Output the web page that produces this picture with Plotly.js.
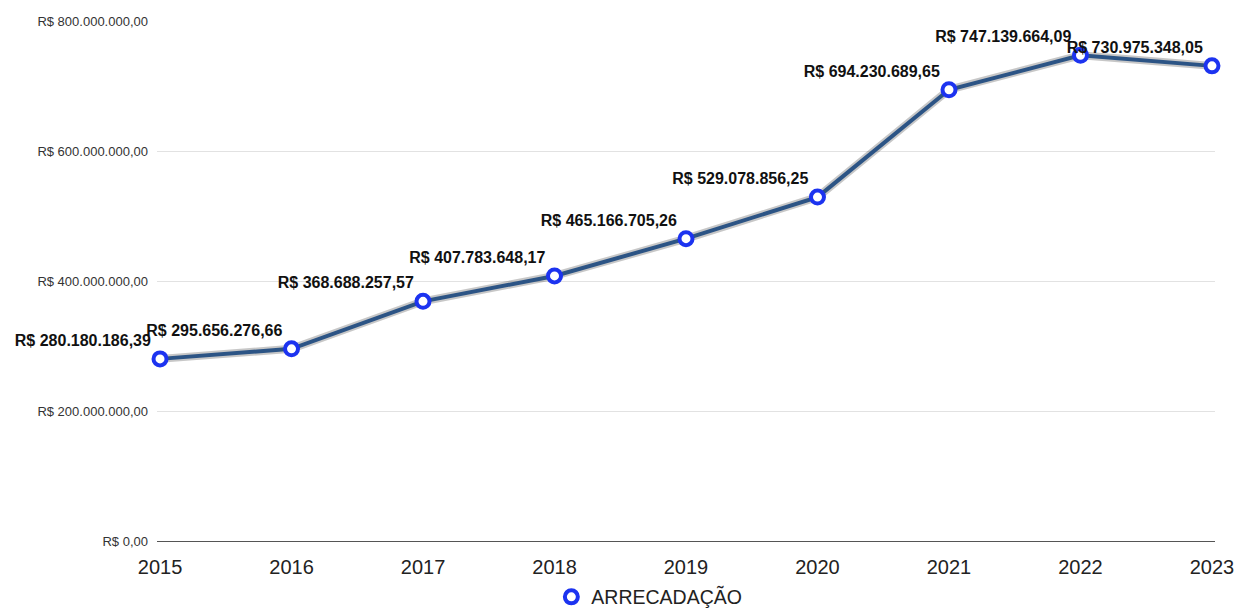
<!DOCTYPE html>
<html><head><meta charset="utf-8">
<script src="https://cdn.plot.ly/plotly-3.0.1.min.js"></script>
<style>html,body{margin:0;padding:0;background:#fff}#c{width:1239px;height:610px}</style>
</head><body><div id="c"></div>
<script>
const years = [2015, 2016, 2017, 2018, 2019, 2020, 2021, 2022, 2023];
const arrecadacao = [280180186.39, 295656276.66, 368688257.57, 407783648.17, 465166705.26, 529078856.25, 694230689.65, 747139664.09, 730975348.05];
const yTickVals = [0, 200000000, 400000000, 600000000, 800000000];
const yTickLabels = ["R$ 0,00", "R$ 200.000.000,00", "R$ 400.000.000,00", "R$ 600.000.000,00", "R$ 800.000.000,00"];
const seriesName = "ARRECADAÇÃO";

function brl(v){
  const parts = v.toFixed(2).split('.');
  const intPart = parts[0].replace(/\B(?=(\d{3})+(?!\d))/g, '.');
  return 'R$ ' + intPart + ',' + parts[1];
}
const labels = arrecadacao.map(brl);

const shadow = {
  x: years, y: arrecadacao, mode: 'lines', showlegend: false, hoverinfo: 'skip',
  line: {color: 'rgba(0,0,0,0.22)', width: 8}
};
const line = {
  x: years, y: arrecadacao, mode: 'lines', showlegend: false,
  line: {color: '#2c5485', width: 4}
};
const pts = {
  x: years, y: arrecadacao, mode: 'markers+text', name: seriesName,
  text: labels, textposition: 'top left',
  textfont: {family: 'Liberation Sans, Arial, sans-serif', size: 16, color: '#111', weight: 700},
  marker: {size: 13, color: '#ffffff', line: {color: '#1c33f0', width: 4}},
  cliponaxis: false
};
const layout = {
  width: 1239, height: 610,
  margin: {l: 157, r: 24, t: 21, b: 69, autoexpand: false},
  paper_bgcolor: '#fff', plot_bgcolor: '#fff',
  font: {family: 'Liberation Sans, Arial, sans-serif', color: '#222'},
  xaxis: {
    range: [2014.977, 2023.023], tickvals: years, ticktext: years.map(String),
    showgrid: false, zeroline: false, showline: true, linecolor: '#555', linewidth: 1.2,
    ticks: '', tickfont: {size: 20, color: '#222'}, ticklabelstandoff: 8
  },
  yaxis: {
    range: [0, 800000000], tickvals: yTickVals, ticktext: yTickLabels,
    showgrid: true, gridcolor: '#e2e2e2', gridwidth: 1, zeroline: false, showline: false,
    ticks: '', tickfont: {size: 13, color: '#333'}, ticklabelstandoff: 8
  },
  showlegend: true,
  legend: {orientation: 'h', xref: 'container', yref: 'container', x: 0.445, xanchor: 'left',
    y: 0.021, yanchor: 'middle', font: {size: 19.5, color: '#222'}, itemwidth: 30}
};
Plotly.newPlot('c', [shadow, line, pts], layout, {displayModeBar: false, staticPlot: true});
</script></body></html>
